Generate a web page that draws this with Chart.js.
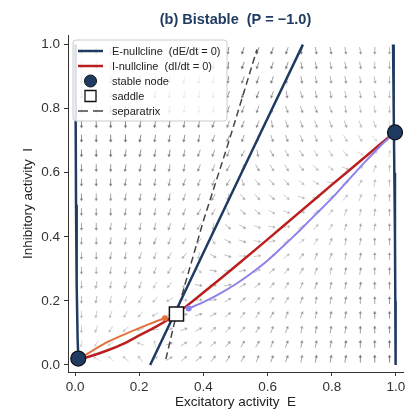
<!DOCTYPE html>
<html><head><meta charset="utf-8">
<script src="https://cdn.jsdelivr.net/npm/chart.js@4.4.1/dist/chart.umd.min.js"></script>
<style>html,body{margin:0;padding:0;background:#fff;}canvas{display:block;}</style>
</head><body>
<canvas id="c" width="408" height="409"></canvas>
<script>
// ---- data ----
const tickVals = [0.0, 0.2, 0.4, 0.6, 0.8, 1.0];
const eNullLeftE = [0.001, 0.002, 0.003, 0.005, 0.008, 0.011];
const eNullLeftI = [1.00, 0.75, 0.50, 0.25, 0.08, 0.00];
const eNullMidE = [0.234, 0.310, 0.400, 0.500, 0.600, 0.710];
const eNullMidI = [0.000, 0.160, 0.350, 0.560, 0.770, 1.000];
const eNullRightE = [0.991, 0.993, 0.995, 0.997, 0.998, 0.999];
const eNullRightI = [1.00, 0.80, 0.60, 0.40, 0.20, 0.00];
const iNullE = [0.00, 0.05, 0.10, 0.15, 0.20, 0.25, 0.30, 0.35, 0.40, 0.50, 0.60, 0.70, 0.80, 0.90, 1.00];
const iNullI = [0.015, 0.028, 0.045, 0.066, 0.092, 0.118, 0.148, 0.186, 0.226, 0.308, 0.392, 0.477, 0.562, 0.646, 0.730];
const sepE = [0.283, 0.316, 0.400, 0.480, 0.567];
const sepI = [0.018, 0.159, 0.450, 0.700, 0.985];
const trajLowE = [0.280, 0.250, 0.200, 0.150, 0.100, 0.060, 0.030, 0.010];
const trajLowI = [0.146, 0.135, 0.115, 0.094, 0.071, 0.048, 0.030, 0.020];
const trajHighE = [0.354, 0.400, 0.450, 0.500, 0.545, 0.600, 0.650, 0.700, 0.750, 0.800, 0.850, 0.900, 0.950, 0.997];
const trajHighI = [0.176, 0.196, 0.222, 0.252, 0.283, 0.326, 0.372, 0.420, 0.470, 0.520, 0.575, 0.630, 0.682, 0.726];
const nodeE = [0.010, 0.997];
const nodeI = [0.020, 0.726];
const saddleE = [0.316];
const saddleI = [0.159];
const legendLabels = ['E-nullcline  (dE/dt = 0)', 'I-nullcline  (dI/dt = 0)', 'stable node', 'saddle', 'separatrix'];
// direction field grid (rows bottom -> top); direction code: base-36 digit * 10 deg (0 = up, clockwise)
const gridE = [0.020,0.066,0.111,0.157,0.203,0.249,0.294,0.340,0.386,0.431,0.477,0.523,0.569,0.614,0.660,0.706,0.751,0.797,0.843,0.889,0.934,0.980];
const gridI = [0.020,0.066,0.111,0.157,0.203,0.249,0.294,0.340,0.386,0.431,0.477,0.523,0.569,0.614,0.660,0.706,0.751,0.797,0.843,0.889,0.934,0.980];
const quiverDir = [
"ruvvw56554332221111000",
"jlortz7655433221111000",
"iklnpr7765443221111000",
"ijklmon876543322111000",
"ijjklmoa98654332111000",
"ijjkklmka9865432211100",
"iijjkklmda986543211100",
"iijjkklmjcb98654221100",
"iijjjkklmfcba865321100",
"iijjjjkkljdcba86432110",
"iiijjjkkllgddcb9642110",
"iiijjjjkkljeeddb964210",
"iiijjjjkkklgeeedca6310",
"iiijjjjjkkljfffeedb620",
"iiijjjjjkkklhfffffec51",
"iiiijjjjjkkkjgggggffe4",
"iiiijjjjjkkkkhgggggggh",
"iiiijjjjjjkkkjgggghhhi",
"iiiijjjjjjkkkkhghhhhhi",
"iiiiijjjjjjkkkjhhhhhhi",
"iiiiijjjjjjkkkkhhhhhii",
"iiiiijjjjjjkkkkjhhhhii"];
const quiverMag = [
"0001112233333444555666",
"0000102222333344445556",
"1111111222223333444555",
"1111110222222333344455",
"2211111122222223334445",
"2222211122222222333444",
"3222222112221222223334",
"3333222212211112222333",
"3333332221221111122233",
"4433333322221111112223",
"4444433332222111111122",
"5444444333222211111112",
"5555444433322221111111",
"5555554443333222111011",
"6665555444433322111000",
"6666655554443332211100",
"7666666555444333222110",
"7777666655544433322111",
"7777776665555443332221",
"8887777666655544333222",
"8888877776665554433322",
"9988888777666655443332"];

// ---- styles ----
const NAVY = '#1f3b61', RED = '#bb1e1e', ORANGE = '#e4703c', PURPLE = '#8b82ea', SEP = '#444444';
Chart.defaults.font.family = '"Liberation Sans", Arial, sans-serif';
const pts = (xs, ys) => xs.map((v, i) => ({x: v, y: ys[i]}));

const quiverPlugin = {
  id: 'quiver',
  beforeDatasetsDraw(chart) {
    const {ctx, chartArea: a, scales: {x, y}} = chart;
    ctx.save();
    ctx.beginPath(); ctx.rect(a.left, a.top, a.right - a.left, a.bottom - a.top); ctx.clip();
    const L = 8, hl = 3, hw = 1.8;
    for (let j = 0; j < gridI.length; j++) {
      for (let k = 0; k < gridE.length; k++) {
        const ang = parseInt(quiverDir[j][k], 36) * Math.PI / 18;
        const m = parseInt(quiverMag[j][k], 10);
        const alpha = Math.min(0.6, 0.18 + 0.07 * m);
        const cx = x.getPixelForValue(gridE[k]), cy = y.getPixelForValue(gridI[j]);
        const dx = Math.sin(ang), dy = -Math.cos(ang);
        const tx = cx - dx * L / 2, ty = cy - dy * L / 2, hx = cx + dx * L / 2, hy = cy + dy * L / 2;
        ctx.strokeStyle = ctx.fillStyle = 'rgba(60,60,60,' + alpha + ')';
        ctx.lineWidth = 1;
        ctx.beginPath(); ctx.moveTo(tx, ty); ctx.lineTo(hx - dx * hl * 0.6, hy - dy * hl * 0.6); ctx.stroke();
        ctx.beginPath(); ctx.moveTo(hx, hy);
        ctx.lineTo(hx - dx * hl - dy * hw, hy - dy * hl + dx * hw);
        ctx.lineTo(hx - dx * hl + dy * hw, hy - dy * hl - dx * hw);
        ctx.closePath(); ctx.fill();
      }
    }
    ctx.restore();
  }
};

const overlayPlugin = {
  id: 'overlay',
  afterDraw(chart) {
    const {ctx, chartArea: a} = chart;
    ctx.save();
    // title
    ctx.fillStyle = NAVY;
    ctx.font = 'bold 14.5px "Liberation Sans", Arial, sans-serif';
    ctx.textAlign = 'center'; ctx.textBaseline = 'middle';
    ctx.fillText('(b) Bistable  (P = \u22121.0)', (a.left + a.right) / 2, 19.5);
    // legend box
    const bx = 73, by = 40, bw = 154, bh = 81, r = 3;
    ctx.beginPath();
    ctx.moveTo(bx + r, by); ctx.lineTo(bx + bw - r, by); ctx.quadraticCurveTo(bx + bw, by, bx + bw, by + r);
    ctx.lineTo(bx + bw, by + bh - r); ctx.quadraticCurveTo(bx + bw, by + bh, bx + bw - r, by + bh);
    ctx.lineTo(bx + r, by + bh); ctx.quadraticCurveTo(bx, by + bh, bx, by + bh - r);
    ctx.lineTo(bx, by + r); ctx.quadraticCurveTo(bx, by, bx + r, by); ctx.closePath();
    ctx.fillStyle = 'rgba(255,255,255,0.85)'; ctx.fill();
    ctx.strokeStyle = '#cccccc'; ctx.lineWidth = 1; ctx.stroke();
    const rows = [51, 66, 81, 96, 111];
    const x0 = 78, x1 = 103, xm = 90.5;
    ctx.lineCap = 'butt';
    ctx.strokeStyle = NAVY; ctx.lineWidth = 2.5;
    ctx.beginPath(); ctx.moveTo(x0, rows[0]); ctx.lineTo(x1, rows[0]); ctx.stroke();
    ctx.strokeStyle = RED;
    ctx.beginPath(); ctx.moveTo(x0, rows[1]); ctx.lineTo(x1, rows[1]); ctx.stroke();
    ctx.fillStyle = NAVY; ctx.strokeStyle = '#111'; ctx.lineWidth = 1;
    ctx.beginPath(); ctx.arc(xm, rows[2], 6, 0, Math.PI * 2); ctx.fill(); ctx.stroke();
    ctx.fillStyle = '#fff'; ctx.strokeStyle = '#111'; ctx.lineWidth = 1.3;
    ctx.beginPath(); ctx.rect(xm - 5.5, rows[3] - 5.5, 11, 11); ctx.fill(); ctx.stroke();
    ctx.strokeStyle = SEP; ctx.lineWidth = 1.5; ctx.setLineDash([10, 5]);
    ctx.beginPath(); ctx.moveTo(x0, rows[4]); ctx.lineTo(x1, rows[4]); ctx.stroke();
    ctx.setLineDash([]);
    ctx.fillStyle = '#222';
    ctx.font = '11px "Liberation Sans", Arial, sans-serif';
    ctx.textAlign = 'left'; ctx.textBaseline = 'middle';
    legendLabels.forEach((t, i) => ctx.fillText(t, 112, rows[i] + 0.5));
    ctx.restore();
  }
};

const lineDs = (label, xs, ys, color, width, order, extra) => Object.assign({
  label, data: pts(xs, ys), showLine: true, borderColor: color, backgroundColor: color,
  borderWidth: width, pointRadius: 0, pointHoverRadius: 0, fill: false, order, tension: 0
}, extra || {});

const axisCommon = {
  type: 'linear',
  grid: {display: true, drawOnChartArea: false, drawTicks: true, tickLength: 4, color: '#333', lineWidth: 1},
  border: {display: true, color: '#333', width: 1},
  ticks: {color: '#333', font: {size: 13.5}, padding: 3, autoSkip: false, maxRotation: 0,
          callback: v => Number(v).toFixed(1)},
  afterBuildTicks: s => { s.ticks = tickVals.map(v => ({value: v})); }
};

new Chart(document.getElementById('c'), {
  type: 'scatter',
  data: {
    datasets: [
      lineDs('nodes', nodeE, nodeI, NAVY, 1, 0, {showLine: false, pointRadius: 7.5, pointBorderColor: '#111', pointBorderWidth: 1.2, pointBackgroundColor: NAVY, pointStyle: 'circle'}),
      lineDs('saddle', saddleE, saddleI, '#111', 1, 1, {showLine: false, pointRadius: 10, pointStyle: 'rect', pointBorderColor: '#111', pointBorderWidth: 1.5, pointBackgroundColor: '#fff'}),
      lineDs('startLow', trajLowE.slice(0, 1), trajLowI.slice(0, 1), ORANGE, 1, 2, {showLine: false, pointRadius: 3, pointBorderWidth: 0, pointBackgroundColor: ORANGE}),
      lineDs('startHigh', trajHighE.slice(0, 1), trajHighI.slice(0, 1), PURPLE, 1, 2, {showLine: false, pointRadius: 3, pointBorderWidth: 0, pointBackgroundColor: PURPLE}),
      lineDs('trajLow', trajLowE, trajLowI, ORANGE, 2, 3, {tension: 0.2}),
      lineDs('trajHigh', trajHighE, trajHighI, PURPLE, 2, 3, {tension: 0.2}),
      lineDs('iNull', iNullE, iNullI, RED, 2.5, 4, {tension: 0.2}),
      lineDs('eNullLeft', eNullLeftE, eNullLeftI, NAVY, 2.5, 5),
      lineDs('eNullMid', eNullMidE, eNullMidI, NAVY, 2.5, 5),
      lineDs('eNullRight', eNullRightE, eNullRightI, NAVY, 2.5, 5),
      lineDs('sep', sepE, sepI, SEP, 1.5, 6, {borderDash: [7, 4]})
    ]
  },
  options: {
    responsive: false, animation: false, devicePixelRatio: 1,
    layout: {autoPadding: false, padding: {left: 0, right: 5, top: 35, bottom: 0}},
    plugins: {legend: {display: false}, title: {display: false}, tooltip: {enabled: false}},
    events: [],
    scales: {
      x: Object.assign({}, axisCommon, {
        min: -0.022, max: 1.022, position: 'bottom',
        title: {display: true, text: 'Excitatory activity  E', color: '#222', font: {size: 13.5, lineHeight: 1}, padding: {top: 0, bottom: 0}},
        afterFit: s => { s.height = 37; s.paddingLeft = 0; s.paddingRight = 0; }
      }),
      y: Object.assign({}, axisCommon, {
        min: -0.022, max: 1.03, position: 'left',
        ticks: Object.assign({}, axisCommon.ticks, {padding: 4}),
        title: {display: true, text: 'Inhibitory activity  I', color: '#222', font: {size: 13.5, lineHeight: 1}, padding: {top: 22, bottom: 0}},
        afterFit: s => { s.width = 68; s.paddingTop = 0; s.paddingBottom = 0; }
      })
    }
  },
  plugins: [quiverPlugin, overlayPlugin]
});
</script>
</body></html>
